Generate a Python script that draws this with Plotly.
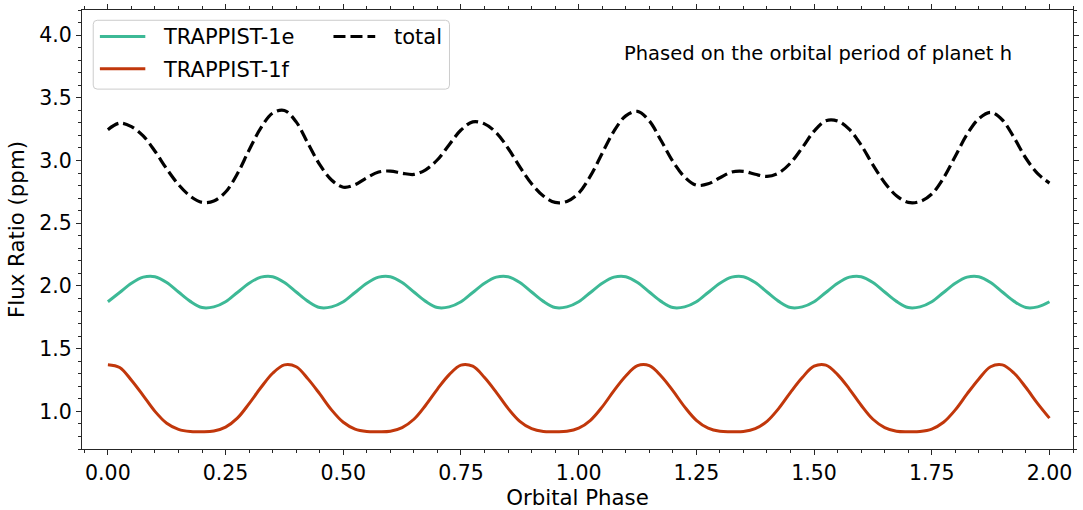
import plotly.graph_objects as go

# ---------------- data ----------------
phase = [0.000, 0.025, 0.050, 0.075, 0.100, 0.125, 0.150, 0.175, 0.200, 0.225,
         0.250, 0.275, 0.300, 0.325, 0.350, 0.375, 0.400, 0.425, 0.450, 0.475,
         0.500, 0.525, 0.550, 0.575, 0.600, 0.625, 0.650, 0.675, 0.700, 0.725,
         0.750, 0.775, 0.800, 0.825, 0.850, 0.875, 0.900, 0.925, 0.950, 0.975,
         1.000, 1.025, 1.050, 1.075, 1.100, 1.125, 1.150, 1.175, 1.200, 1.225,
         1.250, 1.275, 1.300, 1.325, 1.350, 1.375, 1.400, 1.425, 1.450, 1.475,
         1.500, 1.525, 1.550, 1.575, 1.600, 1.625, 1.650, 1.675, 1.700, 1.725,
         1.750, 1.775, 1.800, 1.825, 1.850, 1.875, 1.900, 1.925, 1.950, 1.975,
         2.000]

flux_e = [1.874, 1.948, 2.022, 2.070, 2.074, 2.028, 1.952, 1.877, 1.828, 1.833,
          1.874, 1.948, 2.022, 2.070, 2.074, 2.028, 1.952, 1.877, 1.828, 1.833,
          1.874, 1.948, 2.022, 2.070, 2.074, 2.028, 1.952, 1.877, 1.828, 1.833,
          1.874, 1.948, 2.022, 2.070, 2.074, 2.028, 1.952, 1.877, 1.828, 1.833,
          1.874, 1.948, 2.022, 2.070, 2.074, 2.028, 1.952, 1.877, 1.828, 1.833,
          1.874, 1.948, 2.022, 2.070, 2.074, 2.028, 1.952, 1.877, 1.828, 1.833,
          1.874, 1.948, 2.022, 2.070, 2.074, 2.028, 1.952, 1.877, 1.828, 1.833,
          1.874, 1.948, 2.022, 2.070, 2.074, 2.028, 1.952, 1.877, 1.828, 1.833,
          1.874]

flux_f = [1.372, 1.350, 1.248, 1.126, 1.000, 0.905, 0.856, 0.839, 0.838, 0.844,
          0.875, 0.946, 1.062, 1.190, 1.304, 1.371, 1.356, 1.259, 1.139, 1.012,
          0.913, 0.859, 0.840, 0.838, 0.842, 0.871, 0.937, 1.049, 1.178, 1.293,
          1.369, 1.360, 1.270, 1.152, 1.024, 0.921, 0.862, 0.840, 0.838, 0.841,
          0.866, 0.929, 1.036, 1.165, 1.282, 1.364, 1.364, 1.282, 1.165, 1.036,
          0.929, 0.866, 0.841, 0.838, 0.840, 0.862, 0.921, 1.024, 1.152, 1.270,
          1.360, 1.369, 1.293, 1.178, 1.049, 0.937, 0.871, 0.842, 0.838, 0.840,
          0.859, 0.913, 1.012, 1.139, 1.259, 1.356, 1.371, 1.304, 1.190, 1.062,
          0.946]

flux_total = [3.246, 3.298, 3.270, 3.196, 3.074, 2.933, 2.808, 2.716, 2.666, 2.677,
              2.749, 2.894, 3.084, 3.260, 3.378, 3.399, 3.308, 3.136, 2.967, 2.845,
              2.787, 2.807, 2.862, 2.908, 2.916, 2.899, 2.889, 2.926, 3.006, 3.126,
              3.243, 3.308, 3.292, 3.222, 3.098, 2.949, 2.814, 2.717, 2.666, 2.674,
              2.740, 2.877, 3.058, 3.235, 3.356, 3.392, 3.316, 3.159, 2.993, 2.869,
              2.803, 2.814, 2.863, 2.908, 2.914, 2.890, 2.873, 2.901, 2.980, 3.103,
              3.234, 3.317, 3.315, 3.248, 3.123, 2.965, 2.823, 2.719, 2.666, 2.673,
              2.733, 2.861, 3.034, 3.209, 3.333, 3.384, 3.323, 3.181, 3.018, 2.895,
              2.820]

series_names = ["TRAPPIST-1e", "TRAPPIST-1f", "total"]
x_tickvals = [0.0, 0.25, 0.5, 0.75, 1.0, 1.25, 1.5, 1.75, 2.0]
x_ticktext = ["0.00", "0.25", "0.50", "0.75", "1.00", "1.25", "1.50", "1.75", "2.00"]
y_tickvals = [1.0, 1.5, 2.0, 2.5, 3.0, 3.5, 4.0]
y_ticktext = ["1.0", "1.5", "2.0", "2.5", "3.0", "3.5", "4.0"]
note_text = "Phased on the orbital period of planet h"

# ---------------- style ----------------
GREEN = "#3db996"
RED = "#c1370b"
BLACK = "#000000"
AXC = "#262626"
FONT = "DejaVu Sans"
FS_TICK = 20.5
FS_TITLE = 21.3
FS_LEG = 21
FS_NOTE = 19.5
W, H = 1083, 510
ML, MR, MT, MB = 82, 4, 9, 61
PW, PH = W - ML - MR, H - MT - MB


def px(xp):
    return (xp - ML) / PW


def py(yp):
    return (H - MB - yp) / PH


fig = go.Figure()
fig.add_trace(go.Scatter(x=phase, y=flux_e, mode="lines", name=series_names[0],
                         line=dict(color=GREEN, width=3, shape="spline", smoothing=1.0),
                         showlegend=False))
fig.add_trace(go.Scatter(x=phase, y=flux_f, mode="lines", name=series_names[1],
                         line=dict(color=RED, width=3, shape="spline", smoothing=1.0),
                         showlegend=False))
fig.add_trace(go.Scatter(x=phase, y=flux_total, mode="lines", name=series_names[2],
                         line=dict(color=BLACK, width=3.2, dash="12px,5px",
                                   shape="spline", smoothing=1.0),
                         showlegend=False))

axis_common = dict(
    showline=True, linecolor=AXC, linewidth=1.2, mirror="ticks",
    ticks="outside", ticklen=5, tickwidth=1.2, tickcolor=AXC,
    showgrid=False, zeroline=False,
    tickfont=dict(family=FONT, size=FS_TICK, color="black"),
)

fig.update_layout(
    width=W, height=H,
    margin=dict(l=ML, r=MR, t=MT, b=MB, pad=0),
    paper_bgcolor="white", plot_bgcolor="white",
    font=dict(family=FONT, size=FS_TICK, color="black"),
    xaxis=dict(range=[-0.055, 2.05], tickmode="array", tickvals=x_tickvals,
               ticktext=x_ticktext,
               minor=dict(ticks="outside", ticklen=3, tickwidth=1, tickcolor=AXC,
                          tickmode="linear", tick0=0, dtick=0.05, showgrid=False),
               title=dict(text="Orbital Phase", font=dict(family=FONT, size=FS_TITLE),
                          standoff=4),
               **axis_common),
    yaxis=dict(range=[0.7, 4.2], tickmode="array", tickvals=y_tickvals,
               ticktext=y_ticktext,
               minor=dict(ticks="outside", ticklen=3, tickwidth=1, tickcolor=AXC,
                          tickmode="linear", tick0=0, dtick=0.1, showgrid=False),
               title=dict(text="Flux Ratio (ppm)", font=dict(family=FONT, size=FS_TITLE),
                          standoff=8),
               **axis_common),
)

# legend frame (matplotlib-like rounded box)
x0, x1 = px(93.3), px(451.7)
y0, y1 = py(88.3), py(19.3)
rx, ry = 4 / PW, 4 / PH
path = (f"M {x0+rx},{y0} L {x1-rx},{y0} Q {x1},{y0} {x1},{y0+ry} "
        f"L {x1},{y1-ry} Q {x1},{y1} {x1-rx},{y1} L {x0+rx},{y1} "
        f"Q {x0},{y1} {x0},{y1-ry} L {x0},{y0+ry} Q {x0},{y0} {x0+rx},{y0} Z")
fig.add_shape(type="path", path=path, xref="paper", yref="paper",
              fillcolor="rgba(255,255,255,0.8)", line=dict(color="#cccccc", width=1),
              layer="above")

legend_items = [
    (series_names[0], GREEN, "solid", 100.0, 145.7, 35.5, 162.3),
    (series_names[1], RED, "solid", 100.0, 145.7, 67.8, 162.3),
    (series_names[2], BLACK, "12px,5px", 335.0, 377.0, 35.5, 395.0),
]
for name, col, dash, lx0, lx1, ly, tx in legend_items:
    fig.add_shape(type="line", xref="paper", yref="paper",
                  x0=px(lx0), x1=px(lx1), y0=py(ly), y1=py(ly),
                  line=dict(color=col, width=3, dash=dash), layer="above")
    fig.add_annotation(x=px(tx - 1), y=py(ly + 1), xref="paper", yref="paper",
                       text=name, showarrow=False, xanchor="left", yanchor="middle",
                       font=dict(family=FONT, size=FS_LEG, color="black"))

fig.add_annotation(x=px(626.7 - 1), y=py(53), xref="paper", yref="paper",
                   text=note_text, showarrow=False, xanchor="left", yanchor="middle",
                   font=dict(family=FONT, size=FS_NOTE, color="black"))

fig.write_html("out.html")
